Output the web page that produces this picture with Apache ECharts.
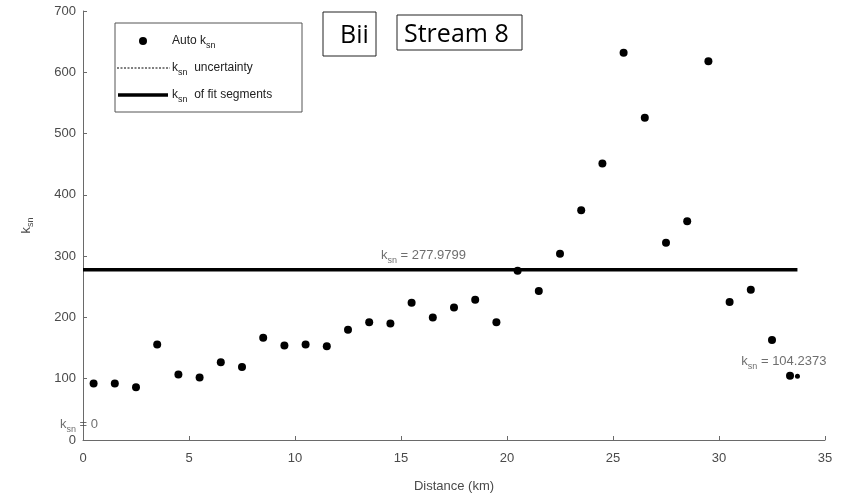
<!DOCTYPE html>
<html>
<head>
<meta charset="utf-8">
<title>Stream 8 - k_sn vs distance</title>
<script src="https://cdn.jsdelivr.net/npm/echarts@6/dist/echarts.min.js"></script>
<style>
  html, body { margin: 0; padding: 0; background: #ffffff; }
  #chart { width: 865px; height: 498px; }
</style>
</head>
<body>
<div id="chart"></div>
<script>
// Auto k_sn values along the stream (distance in km)
var distanceKm = [0.5, 1.5, 2.5, 3.5, 4.5, 5.5, 6.5, 7.5, 8.5, 9.5, 10.5, 11.5, 12.5, 13.5, 14.5,
  15.5, 16.5, 17.5, 18.5, 19.5, 20.5, 21.5, 22.5, 23.5, 24.5, 25.5, 26.5, 27.5, 28.5, 29.5,
  30.5, 31.5, 32.5, 33.35, 33.7];
var ksnAuto = [92, 92, 86, 156, 107, 102, 127, 119, 167, 154, 156, 153, 180, 192, 190,
  224, 200, 216, 229, 192, 276, 243, 304, 375, 451, 632, 526, 322, 357, 618,
  225, 245, 163, 105, 104];

// Fitted segment (k_sn of fit segments)
var fitStart = 0;
var fitEnd = 33.7;
var fitKsn = 277.9799;
var startKsn = 0;
var endKsn = 104.2373;

// Legend entries
var legendLabels = ['Auto k{s|sn}', 'k{s|sn}  uncertainty', 'k{s|sn}  of fit segments'];

// Axis ticks
var xTicks = [0, 5, 10, 15, 20, 25, 30, 35];
var yTicks = [0, 100, 200, 300, 400, 500, 600, 700];

var FONT = '"Liberation Sans", Arial, sans-serif';
var AXIS_COLOR = '#6a6a6a';
var TEXT_COLOR = '#4a4a4a';

function fmtK(v) {
  return 'k{s|sn} = ' + v;
}

var scatterData = distanceKm.map(function (d, i) {
  var item = { value: [d, ksnAuto[i]] };
  if (i === distanceKm.length - 1) item.symbolSize = 5;
  return item;
});

var chart = echarts.init(document.getElementById('chart'), null, { renderer: 'canvas' });

// Legend box drawn as a small graphic group
function legendText(label, y) {
  return {
    type: 'text',
    x: 172, y: y,
    style: {
      text: label,
      fill: '#222222',
      font: '12px ' + FONT,
      verticalAlign: 'middle',
      rich: {
        s: { fontSize: 9, fill: '#222222', fontFamily: FONT, padding: [10, 0, 0, 0] }
      }
    }
  };
}

var legendGraphic = [
  {
    type: 'rect',
    shape: { x: 115, y: 23, width: 187, height: 89 },
    style: { fill: '#ffffff', stroke: '#555555', lineWidth: 1 },
    z: 10
  },
  {
    type: 'circle',
    shape: { cx: 143, cy: 41, r: 4 },
    style: { fill: '#000000' },
    z: 11
  },
  {
    type: 'line',
    shape: { x1: 117, y1: 68, x2: 170, y2: 68 },
    style: { stroke: '#000000', lineWidth: 1, lineDash: [2, 1.5] },
    z: 11
  },
  {
    type: 'line',
    shape: { x1: 118, y1: 95, x2: 168, y2: 95 },
    style: { stroke: '#000000', lineWidth: 3.5 },
    z: 11
  }
];
[41, 68, 95].forEach(function (y, i) {
  var t = legendText(legendLabels[i], y);
  t.z = 11;
  legendGraphic.push(t);
});

var option = {
  backgroundColor: '#ffffff',
  animation: false,
  grid: { left: 83, right: 40, top: 11, bottom: 56, containLabel: false },
  xAxis: {
    type: 'value',
    min: xTicks[0],
    max: xTicks[xTicks.length - 1],
    interval: 5,
    name: 'Distance (km)',
    nameLocation: 'middle',
    nameGap: 40,
    nameTextStyle: { fontSize: 13, color: TEXT_COLOR, fontFamily: FONT },
    axisLine: { show: true, lineStyle: { color: AXIS_COLOR, width: 1 } },
    axisTick: { show: true, inside: true, length: 4, lineStyle: { color: AXIS_COLOR } },
    axisLabel: { fontSize: 13, color: TEXT_COLOR, fontFamily: FONT, margin: 12 },
    splitLine: { show: false }
  },
  yAxis: {
    type: 'value',
    min: yTicks[0],
    max: yTicks[yTicks.length - 1],
    interval: 100,
    name: 'k{s|sn}',
    nameLocation: 'middle',
    nameGap: 48,
    nameTextStyle: {
      fontSize: 13, color: TEXT_COLOR, fontFamily: FONT,
      rich: { s: { fontSize: 9, color: TEXT_COLOR, fontFamily: FONT, padding: [8, 0, 0, 0] } }
    },
    axisLine: { show: true, lineStyle: { color: AXIS_COLOR, width: 1 } },
    axisTick: { show: true, inside: true, length: 4, lineStyle: { color: AXIS_COLOR } },
    axisLabel: { fontSize: 13, color: TEXT_COLOR, fontFamily: FONT, margin: 7 },
    splitLine: { show: false }
  },
  series: [
    {
      name: 'k_sn of fit segments',
      type: 'line',
      data: [[fitStart, fitKsn], [fitEnd, fitKsn]],
      symbol: 'none',
      lineStyle: { color: '#000000', width: 3.5 },
      itemStyle: { color: '#000000' },
      z: 2
    },
    {
      name: 'Auto k_sn',
      type: 'scatter',
      data: scatterData,
      symbol: 'circle',
      symbolSize: 8,
      itemStyle: { color: '#000000', opacity: 1 },
      z: 3
    },
    {
      // segment value annotations
      name: 'labels',
      type: 'scatter',
      silent: true,
      clip: false,
      symbolSize: 0,
      z: 4,
      label: {
        show: true,
        fontSize: 13,
        color: TEXT_COLOR,
        fontFamily: FONT,
        rich: { s: { fontSize: 9, color: TEXT_COLOR, fontFamily: FONT, padding: [9, 0, 0, 0] } }
      },
      data: [
        { value: [14.1, fitKsn], label: { formatter: fmtK(fitKsn), position: 'right', offset: [-6, -14] } },
        { value: [31.1, 128], label: { formatter: fmtK(endKsn), position: 'right', offset: [-6, 0] } },
        { value: [0, 28], label: { formatter: fmtK(startKsn), position: 'left', offset: [20, 2] } }
      ]
    }
  ],
  graphic: legendGraphic.concat([
    {
      type: 'rect',
      shape: { x: 323, y: 12, width: 53, height: 44 },
      style: { fill: '#ffffff', stroke: '#222222', lineWidth: 1 }
    },
    {
      type: 'text',
      x: 340, y: 23,
      style: { text: 'Bii', font: '25px "Open Sans", sans-serif', fill: '#000000' }
    },
    {
      type: 'rect',
      shape: { x: 397, y: 15, width: 125, height: 35 },
      style: { fill: '#ffffff', stroke: '#222222', lineWidth: 1 }
    },
    {
      type: 'text',
      x: 404, y: 22,
      style: { text: 'Stream 8', font: '25px "Open Sans", sans-serif', fill: '#000000' }
    }
  ])
};

chart.setOption(option);
</script>
</body>
</html>
